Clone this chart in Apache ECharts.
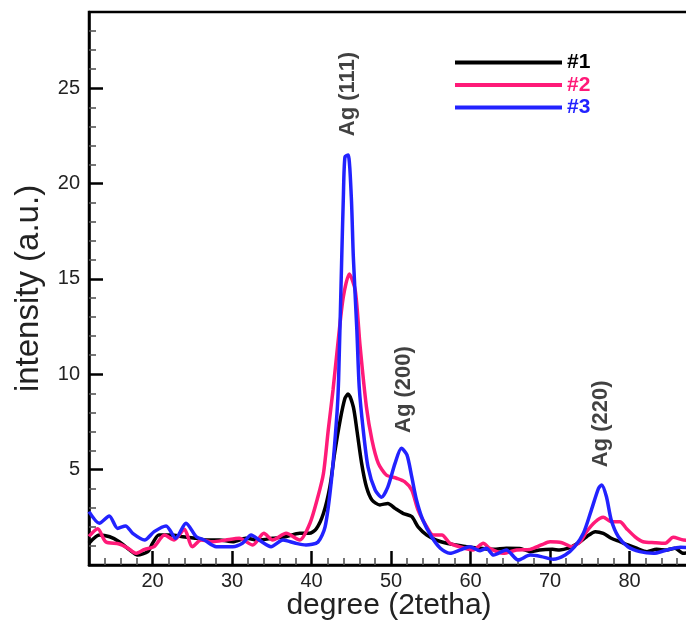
<!DOCTYPE html>
<html>
<head>
<meta charset="utf-8">
<script src="https://cdn.jsdelivr.net/npm/echarts@6/dist/echarts.min.js"></script>
<style>
  html, body { margin: 0; padding: 0; background: #fff; }
  #chart { width: 686px; height: 620px; }
</style>
</head>
<body>
<div id="chart"></div>
<script>
// XRD patterns of samples #1, #2 and #3 (2θ in degrees, intensity in a.u.)
const deg1 = [12.0, 13.3, 14.6, 15.8, 17.1, 18.1, 19.4, 20.0, 20.8, 22.3, 23.8, 25.5, 26.7, 28.4, 30.1, 31.7, 33.4, 35.1, 36.7, 38.5, 39.7, 40.6, 41.5, 42.3, 42.9, 43.6, 44.2, 44.6, 45.25, 45.7, 46.3, 46.9, 47.6, 48.6, 49.6, 50.5, 51.5, 52.6, 53.4, 54.5, 55.7, 57.0, 58.2, 59.5, 61.2, 62.9, 64.5, 66.2, 67.5, 68.7, 70.3, 71.2, 72.3, 73.5, 74.6, 75.7, 76.7, 77.7, 78.8, 79.8, 80.9, 82.2, 83.4, 84.7, 85.7, 86.8, 88.0, 90.0];
const int1 = [1.14, 1.57, 1.48, 1.22, 0.79, 0.52, 0.70, 1.14, 1.57, 1.57, 1.48, 1.40, 1.31, 1.31, 1.22, 1.40, 1.31, 1.40, 1.48, 1.66, 1.66, 1.90, 2.71, 4.10, 5.86, 7.60, 8.74, 8.97, 8.30, 7.08, 5.33, 4.10, 3.41, 3.15, 3.23, 2.97, 2.71, 2.54, 2.00, 1.57, 1.31, 1.14, 1.05, 0.96, 0.88, 0.82, 0.88, 0.87, 0.70, 0.79, 0.82, 0.79, 0.88, 1.14, 1.48, 1.75, 1.66, 1.40, 1.22, 1.05, 0.88, 0.70, 0.82, 0.79, 0.88, 0.61, 0.70, 0.70];

const deg2 = [12.0, 13.1, 14.1, 15.8, 16.9, 17.9, 19.0, 20.2, 21.5, 22.7, 24.0, 25.0, 26.1, 27.6, 29.2, 30.9, 32.6, 34.0, 35.1, 36.8, 38.5, 39.8, 40.8, 41.5, 42.1, 42.7, 43.4, 44.0, 44.75, 45.5, 46.1, 46.9, 47.6, 48.4, 49.4, 50.7, 51.7, 52.6, 53.4, 54.5, 55.3, 56.4, 57.4, 58.6, 60.3, 61.6, 62.4, 64.1, 65.8, 67.5, 68.9, 70.0, 71.5, 72.7, 73.8, 74.6, 75.7, 76.7, 77.7, 78.8, 79.6, 80.7, 81.7, 83.2, 84.5, 85.5, 86.8, 88.0, 90.0];
const int2 = [1.50, 1.90, 1.22, 1.10, 0.88, 0.61, 0.82, 0.96, 1.57, 1.31, 1.87, 0.96, 1.31, 1.22, 1.31, 1.40, 1.05, 1.66, 1.31, 1.66, 1.31, 2.19, 3.58, 4.81, 7.08, 9.18, 11.97, 14.07, 15.26, 14.40, 11.50, 8.30, 6.55, 5.33, 4.72, 4.55, 4.37, 3.93, 2.88, 2.00, 1.57, 1.57, 1.14, 0.96, 0.79, 1.14, 0.87, 0.61, 0.79, 0.82, 1.05, 1.22, 1.17, 0.96, 1.22, 1.75, 2.27, 2.50, 2.27, 2.27, 1.92, 1.48, 1.22, 1.17, 1.14, 1.45, 1.31, 1.30, 1.30];

const deg3 = [12.0, 13.3, 14.55, 15.6, 16.6, 17.5, 19.0, 20.2, 21.7, 22.9, 24.2, 25.5, 26.5, 28.0, 30.1, 31.3, 32.4, 33.4, 34.9, 36.4, 38.0, 39.3, 40.8, 41.7, 42.5, 43.2, 43.4, 43.8, 44.0, 44.2, 44.6, 45.0, 45.25, 45.7, 46.0, 46.5, 47.1, 48.0, 48.8, 49.6, 50.5, 51.3, 52.0, 52.6, 53.2, 54.0, 55.1, 56.2, 57.4, 58.7, 59.9, 61.2, 62.0, 62.9, 64.5, 66.0, 67.5, 68.9, 70.4, 71.9, 73.1, 74.2, 75.2, 76.1, 76.5, 77.1, 77.7, 78.6, 79.8, 81.3, 83.0, 84.7, 86.4, 88.0, 90.0];
const int3 = [2.80, 2.19, 2.57, 1.92, 2.05, 1.66, 1.31, 1.75, 2.05, 1.40, 2.19, 1.48, 1.31, 0.96, 0.96, 1.14, 1.57, 1.31, 0.96, 1.31, 1.14, 1.05, 1.20, 2.00, 4.46, 7.97, 9.70, 16.20, 19.30, 21.40, 21.50, 19.30, 16.20, 12.30, 9.30, 7.08, 5.15, 3.93, 3.55, 4.10, 5.33, 6.12, 5.77, 4.63, 3.41, 2.36, 1.48, 0.88, 0.61, 0.79, 0.96, 0.75, 0.88, 0.52, 0.79, 0.26, 0.52, 0.44, 0.30, 0.52, 0.96, 1.66, 2.88, 4.02, 4.20, 3.58, 2.36, 1.48, 0.96, 0.70, 0.61, 0.79, 0.93, 0.90, 0.90];

const seriesNames = ['#1', '#2', '#3'];
const seriesColors = ['#000000', '#ff1a78', '#2222ff'];

// reflection labels, placed above each Ag peak (2θ, intensity)
const peakNames = ['Ag (111)', 'Ag (200)', 'Ag (220)'];
const peakDeg = [44.6, 51.6, 76.4];
const peakInt = [24.7, 9.2, 7.4];

const xMajor = [20, 30, 40, 50, 60, 70, 80];
const xMinor = [14, 16, 18, 22, 24, 26, 28, 32, 34, 36, 38, 42, 44, 46, 48, 52, 54, 56, 58, 62, 64, 66, 68, 72, 74, 76, 78, 82, 84, 86, 88];
const yMajor = [5, 10, 15, 20, 25];
const yMinor = [1, 2, 3, 4, 6, 7, 8, 9, 11, 12, 13, 14, 16, 17, 18, 19, 21, 22, 23, 24, 26, 27, 28];

const zip = (xs, ys) => xs.map((x, i) => [x, ys[i]]);
const FONT = 'Liberation Sans, Arial, sans-serif';

const chart = echarts.init(document.getElementById('chart'), null, { renderer: 'canvas' });

const lineSeries = [[deg1, int1], [deg2, int2], [deg3, int3]].map((pair, i) => ({
  name: seriesNames[i],
  type: 'line',
  xAxisIndex: 0,
  yAxisIndex: 0,
  data: zip(pair[0], pair[1]),
  showSymbol: false,
  symbol: 'none',
  smooth: 0.25,
  lineStyle: { color: seriesColors[i], width: 3.5 },
  itemStyle: { color: seriesColors[i] },
  z: 3 + i
}));

chart.setOption({
  animation: false,
  backgroundColor: '#ffffff',
  grid: {
    left: 89, top: 12, bottom: 55, right: -23,
    outerBoundsMode: 'none',
    containLabel: false,
    show: true, borderColor: '#000', borderWidth: 2.5,
    backgroundColor: 'transparent'
  },
  legend: {
    orient: 'vertical',
    left: 450,
    top: 47,
    itemWidth: 107,
    itemHeight: 4,
    itemGap: 1.5,
    icon: 'rect',
    textStyle: { fontSize: 21, fontWeight: 'bold', fontFamily: FONT },
    data: seriesNames.map((n, i) => ({ name: n, textStyle: { color: seriesColors[i] } }))
  },
  xAxis: [
    {
      type: 'value', min: 12, max: 90, position: 'bottom',
      name: 'degree (2tetha)', nameLocation: 'middle', nameGap: 26,
      nameMoveOverlap: false,
      nameTextStyle: { fontSize: 30, color: '#222', fontFamily: FONT, padding: [0, 20, 0, 0] },
      axisLine: { show: true, lineStyle: { color: '#000', width: 2.5 } },
      axisTick: { show: true, inside: true, length: 14, customValues: xMajor, lineStyle: { color: '#000', width: 2.5 } },
      axisLabel: { show: true, customValues: xMajor, fontSize: 20, color: '#222', fontFamily: FONT, margin: 6 },
      splitLine: { show: false }
    },
    {
      type: 'value', min: 12, max: 90, position: 'bottom',
      axisLine: { show: false },
      axisTick: { show: true, inside: true, length: 7, customValues: xMinor, lineStyle: { color: '#555', width: 1.6 } },
      axisLabel: { show: false },
      splitLine: { show: false }
    }
  ],
  yAxis: [
    {
      type: 'value', min: 0, max: 29, position: 'left',
      name: 'intensity (a.u.)', nameLocation: 'middle', nameGap: 44,
      nameMoveOverlap: false,
      nameTextStyle: { fontSize: 33, color: '#222', fontFamily: FONT },
      axisLine: { show: true, lineStyle: { color: '#000', width: 2.5 } },
      axisTick: { show: true, inside: true, length: 14, customValues: yMajor, lineStyle: { color: '#000', width: 2.5 } },
      axisLabel: { show: true, customValues: yMajor, fontSize: 20, color: '#222', fontFamily: FONT, margin: 9 },
      splitLine: { show: false }
    },
    {
      type: 'value', min: 0, max: 29, position: 'left',
      axisLine: { show: false },
      axisTick: { show: true, inside: true, length: 7, customValues: yMinor, lineStyle: { color: '#555', width: 1.6 } },
      axisLabel: { show: false },
      splitLine: { show: false }
    }
  ],
  series: lineSeries.concat([{
    name: 'peaks',
    type: 'scatter',
    xAxisIndex: 0,
    yAxisIndex: 0,
    symbol: 'circle',
    symbolSize: 1,
    itemStyle: { color: 'rgba(0,0,0,0)' },
    silent: true,
    z: 10,
    data: peakNames.map((n, i) => ({ name: n, value: [peakDeg[i], peakInt[i]] })),
    label: {
      show: true,
      position: 'inside',
      rotate: 90,
      formatter: p => p.name,
      fontSize: 22,
      fontWeight: 'bold',
      color: '#111',
      fontFamily: FONT
    }
  }])
});
</script>
</body>
</html>
